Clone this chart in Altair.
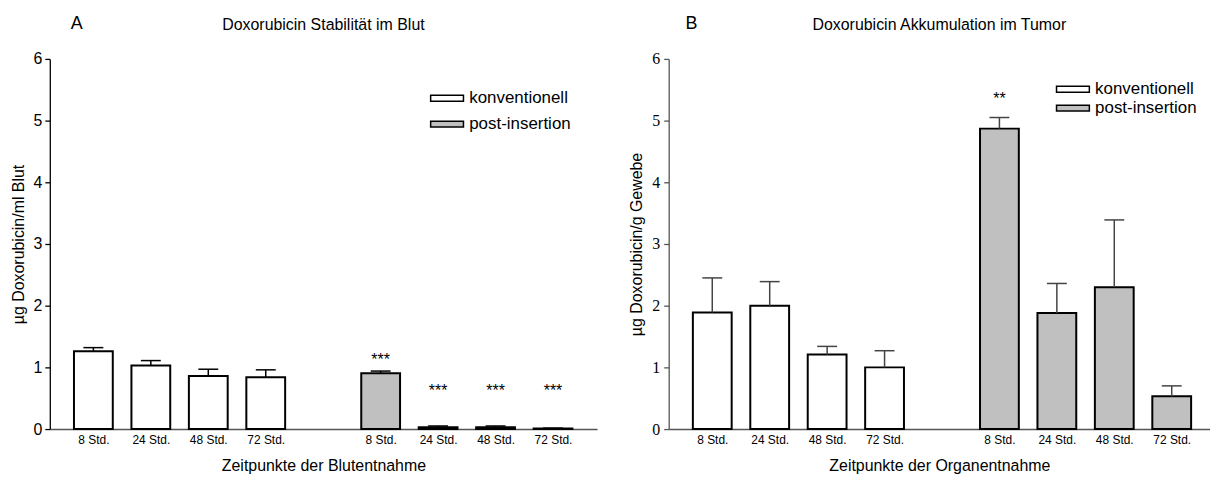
import altair as alt
import pandas as pd

# ---------------- data ----------------
slots = [0, 1, 2, 3, 5, 6, 7, 8]
time_labels = ["8 Std.", "24 Std.", "48 Std.", "72 Std.", "8 Std.", "24 Std.", "48 Std.", "72 Std."]
groups = ["konventionell"] * 4 + ["post-insertion"] * 4

blood_mean = [1.26, 1.03, 0.86, 0.84, 0.905, 0.03, 0.03, 0.01]
blood_err = [1.32, 1.11, 0.97, 0.96, 0.94, 0.05, 0.05, 0.015]
blood_sig = ["", "", "", "", "***", "***", "***", "***"]
blood_sig_y = [0, 0, 0, 0, 1.19, 0.68, 0.68, 0.68]

tumor_mean = [1.89, 2.00, 1.21, 1.00, 4.87, 1.88, 2.30, 0.53]
tumor_err = [2.45, 2.39, 1.34, 1.27, 5.05, 2.36, 3.39, 0.70]
tumor_sig = ["", "", "", "", "**", "", "", ""]
tumor_sig_y = [0, 0, 0, 0, 5.42, 0, 0, 0]

y_ticks = [0, 1, 2, 3, 4, 5, 6]
SANS = "Liberation Sans"
SERIF = "Liberation Serif"

label_map = {}
for s, t in zip(slots, time_labels):
    label_map[str(s)] = t
label_expr = "{" + ",".join(f"'{k}':'{v}'" for k, v in label_map.items()) + "}[datum.value + '']"


def panel(mean, err, sig, sig_y, letter, title, ytitle, xtitle, xdomain, width,
          ylabel_font, ytitle_pad, ylabel_pad, err_color, axis_color,
          legend_x, legend_y, row_pad, letter_x):
    df = pd.DataFrame({
        "slot": slots, "zeit": time_labels, "gruppe": groups,
        "mean": mean, "err": err, "sig": sig, "sig_y": sig_y,
    })
    xs = alt.Scale(domain=xdomain, nice=False, zero=False)
    ys = alt.Scale(domain=[0, 6], nice=False)
    xaxis = alt.Axis(values=slots, labelExpr=label_expr, title=xtitle, ticks=False,
                     grid=False, domainColor="#555555", domainWidth=1.5,
                     labelFont=SANS, labelFontSize=12, labelColor="black", labelPadding=6,
                     titleFont=SANS, titleFontSize=16, titleFontWeight="normal",
                     titleColor="black", titlePadding=12)
    yaxis = alt.Axis(values=y_ticks, format="d", title=ytitle, grid=False, tickSize=5,
                     domainColor=axis_color, tickColor=axis_color, domainWidth=1.3, tickWidth=1.3,
                     labelFont=ylabel_font, labelFontSize=16, labelColor="black",
                     labelPadding=ylabel_pad,
                     titleFont=SANS, titleFontSize=16, titleFontWeight="normal",
                     titleColor="black", titlePadding=ytitle_pad)
    base = alt.Chart(df)
    bars = base.mark_bar(size=39, stroke="black", strokeWidth=2).encode(
        x=alt.X("slot:Q", scale=xs, axis=xaxis),
        y=alt.Y("mean:Q", scale=ys, axis=yaxis),
        fill=alt.Fill("gruppe:N",
                      scale=alt.Scale(domain=["konventionell", "post-insertion"],
                                      range=["white", "#c0c0c0"]),
                      legend=alt.Legend(title=None, orient="none", legendX=legend_x, legendY=legend_y,
                                        padding=0,
                                        symbolType="M-3,-0.36H1V0.36H-3Z", symbolSize=272,
                                        symbolStrokeColor="black", symbolStrokeWidth=1.5,
                                        labelFont=SANS, labelFontSize=17, labelColor="black",
                                        rowPadding=row_pad, labelOffset=5)),
    )
    stem = base.mark_rule(color=err_color, strokeWidth=1.5).encode(
        x="slot:Q", y="mean:Q", y2="err:Q")
    cap = base.mark_rule(color=err_color, strokeWidth=1.5, xOffset=-10, x2Offset=10).encode(
        x="slot:Q", x2="slot:Q", y="err:Q")
    stars = base.transform_filter("datum.sig != ''").mark_text(
        font=SANS, fontSize=16, color="black", baseline="alphabetic", dy=9).encode(
        x="slot:Q", y="sig_y:Q", text="sig:N")
    letter_mark = alt.Chart(pd.DataFrame({"t": [letter]})).mark_text(
        font=SANS, fontSize=18, color="black", align="center", baseline="middle").encode(
        x=alt.value(letter_x), y=alt.value(-35.5), text="t:N")
    title_mark = alt.Chart(pd.DataFrame({"t": [title]})).mark_text(
        font=SANS, fontSize=16, color="black", align="center", baseline="middle").encode(
        x=alt.value(width / 2), y=alt.value(-34), text="t:N")
    return alt.layer(bars, stem, cap, stars, letter_mark, title_mark).properties(
        width=width, height=372)


left = panel(blood_mean, blood_err, blood_sig, blood_sig_y, "A",
             "Doxorubicin Stabilität im Blut",
             "µg Doxorubicin/ml Blut", "Zeitpunkte der Blutentnahme",
             [-0.672, 8.68], 550, SANS, 7, 3, "black", "black",
             398.5, 30.5, 9, 27)
right = panel(tumor_mean, tumor_err, tumor_sig, tumor_sig_y, "B",
              "Doxorubicin Akkumulation im Tumor",
              "µg Doxorubicin/g Gewebe", "Zeitpunkte der Organentnahme",
              [-0.672, 8.58], 544, SERIF, 7, 4, "#444444", "#555555",
              405.5, 21.5, 2, 23)

chart = alt.hconcat(left, right, spacing=32).resolve_scale(fill="independent").properties(
    padding={"left": 2, "top": 5, "right": 0, "bottom": 0}).configure(
    background="white", view=alt.ViewConfig(stroke=None))

chart.save("out.html", embed_options={"renderer": "svg", "actions": False})
